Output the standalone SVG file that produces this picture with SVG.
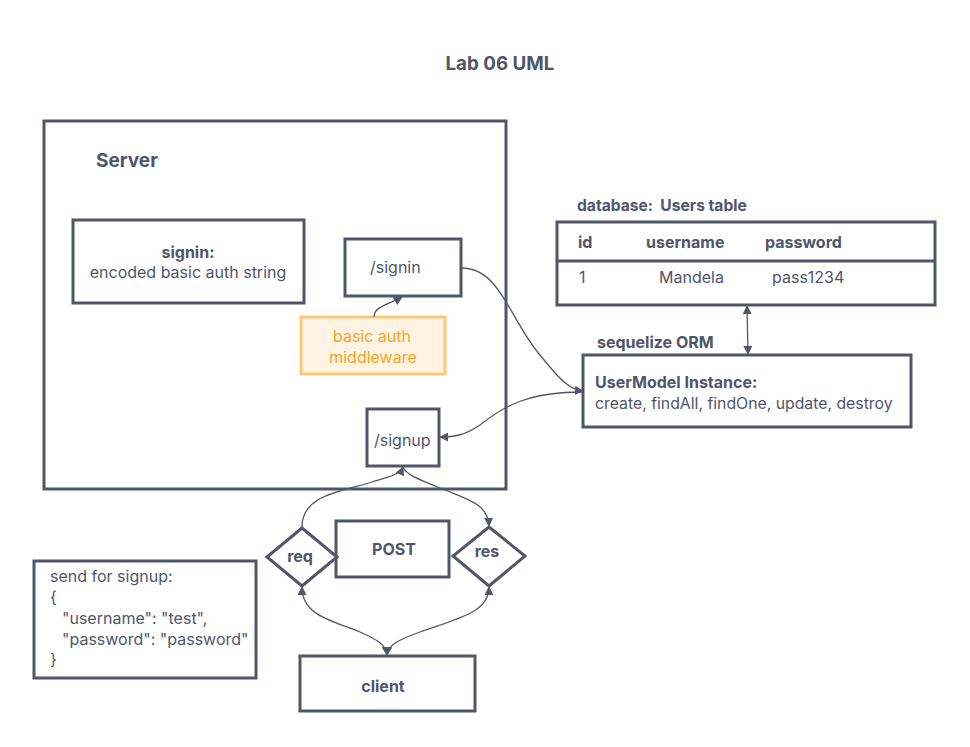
<svg xmlns="http://www.w3.org/2000/svg" width="970" height="747" viewBox="0 0 970 747">
<defs>
<marker id="ah" viewBox="0 0 10 10" refX="9" refY="5" markerWidth="9" markerHeight="9" markerUnits="userSpaceOnUse" orient="auto-start-reverse">
<path d="M0,0 L10,5 L0,10 Z" fill="#515769"/>
</marker>
</defs>
<style>
.box{fill:#fff;stroke:#515769;stroke-width:3}
.t{font-family:Inter,"Liberation Sans",sans-serif;font-size:16px;fill:#4f566b}
.b{font-weight:bold}
.c{fill:none;stroke:#515769;stroke-width:1.3}
.o{font-family:Inter,"Liberation Sans",sans-serif;font-size:16px;fill:#f5a623}
</style>
<rect width="970" height="747" fill="#fff"/>
<text class="t b" x="500" y="70" text-anchor="middle" style="font-size:18.8px">Lab 06 UML</text>

<g id="server">
<rect class="box" x="44" y="121" width="462" height="368"/>
<text class="t b" x="96" y="167" style="font-size:19px">Server</text>
</g>
<g id="signin-note">
<rect class="box" x="73" y="220" width="231" height="83"/>
<text class="t b" x="188" y="258" text-anchor="middle">signin:</text>
<text class="t" x="188" y="278" text-anchor="middle">encoded basic auth string</text>
</g>
<g id="signin">
<rect class="box" x="345" y="239" width="116" height="57"/>
<text class="t" x="370" y="273">/signin</text>
</g>
<g id="basic-auth">
<rect x="301" y="317" width="144" height="57" fill="#fff3e3" stroke="#ffc877" stroke-width="3"/>
<text class="o" x="372" y="342" text-anchor="middle">basic auth</text>
<text class="o" x="373" y="363" text-anchor="middle">middleware</text>
</g>
<g id="signup">
<rect class="box" x="367" y="409" width="72" height="57"/>
<text class="t" x="374" y="446">/signup</text>
</g>
<g id="db">
<text class="t b" x="577" y="211" style="font-size:15.6px;white-space:pre" xml:space="preserve">database:  Users table</text>
<rect class="box" x="557" y="222" width="378" height="83"/>
<line x1="557" y1="261" x2="935" y2="261" stroke="#515769" stroke-width="3"/>
<text class="t b" x="578" y="248">id</text>
<text class="t b" x="646" y="248">username</text>
<text class="t b" x="765" y="248">password</text>
<text class="t" x="579" y="283">1</text>
<text class="t" x="659" y="283">Mandela</text>
<text class="t" x="772" y="283">pass1234</text>
</g>
<g id="orm">
<text class="t b" x="597" y="348">sequelize ORM</text>
<rect class="box" x="583" y="355" width="328" height="72"/>
<text class="t b" x="595" y="388">UserModel Instance:</text>
<text class="t" x="595" y="409" style="font-size:15.8px">create, findAll, findOne, update, destroy</text>
</g>
<g id="post">
<rect class="box" x="336" y="521" width="113" height="56"/>
<text class="t b" x="394" y="555" text-anchor="middle">POST</text>
</g>
<g id="req">
<path class="box" d="M302,528 L337,557 L302,586 L267,557 Z"/>
<text class="t b" x="300" y="562" text-anchor="middle">req</text>
</g>
<g id="res">
<path class="box" d="M489,527 L525,556 L489,586 L453,556 Z"/>
<text class="t b" x="487" y="557" text-anchor="middle">res</text>
</g>
<g id="client">
<rect class="box" x="300" y="656" width="175" height="55"/>
<text class="t b" x="383" y="692" text-anchor="middle">client</text>
</g>
<g id="signup-note">
<rect class="box" x="34" y="561" width="222" height="117"/>
<text class="t" x="50" y="582">send for signup:</text>
<text class="t" x="50" y="603">{</text>
<text class="t" x="62" y="624">"username": "test",</text>
<text class="t" x="62" y="645">"password": "password"</text>
<text class="t" x="50" y="665">}</text>
</g>

<g id="connectors">
<path class="c" d="M374,317 C374,306 390,304 402,297" marker-end="url(#ah)"/>
<path class="c" d="M462,268 C500,268 510,320 540,355 C560,380 570,390 583,391" marker-end="url(#ah)"/>
<path class="c" d="M583,392 C530,392 505,405 480,425 C465,435 455,437 440,437" marker-end="url(#ah)"/>
<path class="c" d="M747,306 L748,354" marker-start="url(#ah)" marker-end="url(#ah)"/>
<path class="c" d="M302,527 C302,495 340,492 372,482 C392,476 400,474 403,467" marker-end="url(#ah)"/>
<path class="c" d="M403,467 C406,475 420,480 445,490 C470,500 488,505 489,526" marker-end="url(#ah)"/>
<path class="c" d="M302,587 C302,615 330,620 360,632 C378,640 386,645 387,655" marker-start="url(#ah)" marker-end="url(#ah)"/>
<path class="c" d="M489,587 C489,612 460,618 420,632 C398,640 388,645 387,655" marker-start="url(#ah)" marker-end="url(#ah)"/>
</g>
</svg>
